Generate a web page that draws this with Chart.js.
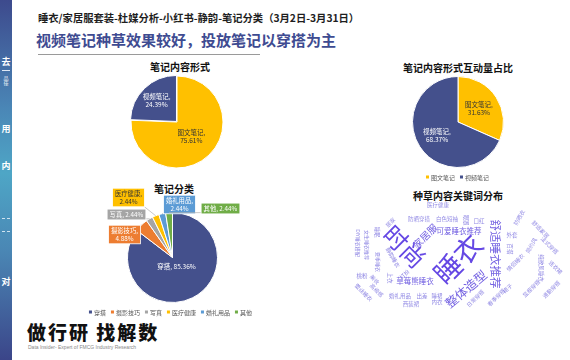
<!DOCTYPE html>
<html>
<head>
<meta charset="utf-8">
<script src="https://cdn.jsdelivr.net/npm/chart.js@4"></script>
<style>
  body { margin: 0; width: 570px; height: 360px; background: #fff; overflow: hidden; position: relative;
         font-family: "Noto Sans CJK SC", "Noto Sans", sans-serif; }
  .abs { position: absolute; }
  .side { left: 0; top: 0; width: 12px; height: 360px;
          background: linear-gradient(#3d4a8d 0%, #4a86b6 30%, #4ea6c6 48%, #4a86b4 70%, #3b4589 100%); }
  .side span { position: absolute; left: 0; width: 12px; text-align: center; color: #fff; font-weight: bold; font-size: 9px; line-height: 1; }
  .title1 { left: 38px; top: 10px; font-size: 10.3px; font-weight: bold; color: #1e1e1e; white-space: nowrap; }
  .title2 { left: 36px; top: 29px; font-size: 15px; font-weight: bold; color: #3e4b91; white-space: nowrap; }
  .rule { left: 38px; top: 54px; width: 222px; height: 1px; background: #9a9a9a; }
  .ct { font-size: 10px; font-weight: bold; color: #111; white-space: nowrap; transform: translate(-50%, -50%); }
  .legend { font-size: 6px; color: #555; white-space: nowrap; transform: translate(-50%, -50%); }
  .legend i { display: inline-block; width: 3px; height: 3px; margin: 0 2px 0 5px; vertical-align: 1px; }
  .word { white-space: nowrap; line-height: 1; }
  .logo { left: 27px; top: 318px; font-size: 19px; font-weight: 900; color: #111; letter-spacing: 2px; white-space: nowrap; }
  .sub { left: 28px; top: 344px; font-size: 5px; color: #888; white-space: nowrap; font-family: "Liberation Sans", sans-serif; }
</style>
</head>
<body>
<div class="abs side">
  <span style="top:57px">去</span>
  <div class="abs" style="left:2px;top:70px;width:8px;height:1px;background:#dfe8f5"></div>
  <span style="top:75px;font-size:5px;font-weight:normal">品<br>佳</span>
  <span style="top:124px">用</span>
  <span style="top:161px">内</span>
  <div class="abs" style="left:2px;top:218px;width:8px;height:0;border-top:1px dashed #cfe3f0"></div>
  <div class="abs" style="left:2px;top:231px;width:8px;height:0;border-top:1px dashed #cfe3f0"></div>
  <span style="top:277px">对</span>
</div>

<div class="abs title1">睡衣/家居服套装-杜媒分析-小红书-静韵-笔记分类（3月2日-3月31日）</div>
<div class="abs title2">视频笔记种草效果较好，投放笔记以穿搭为主</div>
<div class="abs rule"></div>

<div class="abs ct" style="left:180px;top:66px">笔记内容形式</div>
<div class="abs ct" style="left:458px;top:67px">笔记内容形式互动量占比</div>
<div class="abs ct" style="left:174px;top:188px">笔记分类</div>
<div class="abs ct" style="left:458px;top:195px">种草内容关键词分布</div>

<canvas id="formChart" class="abs" style="left:127px;top:71px;width:100px;height:102px"></canvas>
<canvas id="interChart" class="abs" style="left:408px;top:71px;width:100px;height:102px"></canvas>
<canvas id="typeChart" class="abs" style="left:90px;top:180px;width:170px;height:130px"></canvas>

<div id="legend2" class="abs legend" style="left:455px;top:177px"></div>
<div id="legend3" class="abs legend" style="left:168px;top:312px"></div>

<div id="cloud"></div>

<div class="abs logo">做行研 找解数</div>
<div class="abs sub">Data Insider- Expert of FMCG Industry Research</div>

<script>
// 笔记内容形式
const formLabels = ['图文笔记', '视频笔记'];
const formValues = [75.61, 24.39];
// 笔记内容形式互动量占比
const interLabels = ['图文笔记', '视频笔记'];
const interValues = [31.63, 68.37];
// 笔记分类
const typeLabels = ['穿搭', '摄影技巧', '写真', '医疗健康', '婚礼用品', '其他'];
const typeValues = [85.36, 4.88, 2.44, 2.44, 2.44, 2.44];
// 关键词 (文字, 字号)
const cloudWords = [
  ['时尚', 24], ['睡衣', 28], ['舒适睡衣推荐', 11.5], ['整体造型', 12.5], ['家居服', 10],
  ['可爱睡衣推荐', 7.5], ['草莓熊睡衣', 7.5],
  ['医疗健康', 5.5], ['防晒穿搭', 5.5], ['白色短袖', 5.5], ['眼罩', 5.5], ['口红', 5.5],
  ['居家', 5.5], ['睡眠', 5.5], ['DIY睡衣搭配', 5], ['女生睡衣推荐', 5], ['静韵睡衣', 5.5],
  ['夏季睡衣', 5], ['上衣', 5.5], ['打扮', 5.5], ['桃粉', 5.5], ['美妆', 5.5], ['高级感', 5.5],
  ['蕾丝睡衣', 5.5], ['婚礼用品', 5.5], ['出差', 5.5], ['睡裙', 5.5], ['西装裙', 5.5], ['内衣', 5.5],
  ['日常穿搭', 5.5], ['春季穿搭', 5.5], ['裙子', 5.5], ['外套', 5.5], ['百搭', 5.5], ['防晒衣', 5.5],
  ['情侣睡衣', 5.5], ['舒适家居', 5.5], ['简约风', 5.5], ['法式穿搭', 5.5], ['纯欲风睡衣', 5.5],
  ['连衣裙', 5.5], ['显瘦穿搭', 5.5], ['通勤穿搭', 5.5]
];

const NAVY = '#44508c', GOLD = '#ffc000';
const typeColors = [NAVY, '#ed7d31', '#a5a5a5', GOLD, '#5b9bd5', '#70ad47'];

// word cloud layout: centre x, y, rotation
const cloudPos = [
  [405, 246, 45], [457, 258, -45], [495, 254, 90], [466, 289, -40], [425, 236, -45],
  [459, 231, 0], [415, 281, 0],
  [438, 206, 0], [419, 220, 0], [447, 220, 0], [465, 220, 90], [479, 222, 0],
  [391, 223, -45], [376, 232, 90], [358, 243, 90], [367, 245, 90], [392, 258, 60],
  [378, 262, 90], [389, 278, 90], [405, 275, -45], [362, 277, 0], [374, 280, 45], [376, 291, 45],
  [363, 293, 45], [400, 297, 0], [422, 297, 0], [437, 297, 0], [411, 305, 0], [437, 303, 0],
  [476, 299, -45], [497, 298, -45], [508, 289, -45], [512, 236, 0], [509, 249, 90], [520, 218, -60],
  [516, 263, -45], [540, 230, 45], [532, 246, -60], [549, 246, 45], [540, 268, 90],
  [555, 268, 45], [532, 289, -45], [552, 290, -45]
];
const cloud = document.getElementById('cloud');
cloudWords.forEach(([w, s], i) => {
  const [x, y, r] = cloudPos[i];
  const el = document.createElement('div');
  el.className = 'abs word';
  el.textContent = w;
  el.style.left = x + 'px';
  el.style.top = y + 'px';
  el.style.fontSize = s + 'px';
  el.style.color = s >= 20 ? '#6548e4' : s >= 7 ? '#7462e2' : '#9189e4';
  el.style.transform = 'translate(-50%,-50%) rotate(' + r + 'deg)';
  cloud.appendChild(el);
});

function legendHtml(labels, colors) {
  return labels.map((l, i) => '<i style="background:' + colors[i] + '"></i>' + l).join('');
}
document.getElementById('legend2').innerHTML = legendHtml(interLabels, [GOLD, NAVY]);
document.getElementById('legend3').innerHTML = legendHtml(typeLabels, typeColors);

// slice labels, plain or in a callout box
const sliceLabels = {
  id: 'sliceLabels',
  afterDatasetsDraw(chart, args, opts) {
    const ctx = chart.ctx;
    const arcs = chart.getDatasetMeta(0).data;
    const vals = chart.data.datasets[0].data;
    arcs.forEach((arc, i) => {
      const st = opts.items[i];
      const mid = (arc.startAngle + arc.endAngle) / 2;
      const text = chart.data.labels[i] + ', ' + vals[i].toFixed(2) + '%';
      const lines = st.one ? [text] : [chart.data.labels[i] + ',', vals[i].toFixed(2) + '%'];
      let x, y;
      if (st.dx !== undefined) { x = arc.x + st.dx; y = arc.y + st.dy; }
      else { x = arc.x + Math.cos(mid) * arc.outerRadius * st.r; y = arc.y + Math.sin(mid) * arc.outerRadius * st.r; }
      ctx.save();
      ctx.font = (st.size || 6.5) + 'px "Noto Sans CJK SC"';
      ctx.textAlign = 'center';
      ctx.textBaseline = 'middle';
      const lh = (st.size || 6.5) + 1.5;
      if (st.box) {
        const w = Math.max(...lines.map(l => ctx.measureText(l).width)) + 5;
        const h = lines.length * lh + 3;
        // leader line from slice edge to box
        const ex = arc.x + Math.cos(mid) * arc.outerRadius, ey = arc.y + Math.sin(mid) * arc.outerRadius;
        const lx = Math.min(Math.max(ex, x - w / 2), x + w / 2);
        const ly = Math.min(Math.max(ey, y - h / 2), y + h / 2);
        ctx.strokeStyle = '#b0b0b0';
        ctx.lineWidth = 0.7;
        ctx.beginPath(); ctx.moveTo(ex, ey); ctx.lineTo(lx, ly); ctx.stroke();
        ctx.fillStyle = arc.options.backgroundColor;
        ctx.fillRect(x - w / 2, y - h / 2, w, h);
        ctx.strokeStyle = '#ffffff';
        ctx.lineWidth = 0.8;
        ctx.strokeRect(x - w / 2, y - h / 2, w, h);
      }
      ctx.fillStyle = st.color;
      lines.forEach((l, k) => ctx.fillText(l, x, y + (k - (lines.length - 1) / 2) * lh));
      ctx.restore();
    });
  }
};

function pieOptions(pad, items) {
  return {
    responsive: false,
    animation: false,
    layout: { padding: pad },
    plugins: { legend: { display: false }, tooltip: { enabled: false }, sliceLabels: { items } }
  };
}

function makeCanvas(id, w, h) {
  const c = document.getElementById(id);
  c.width = w; c.height = h;
  return c.getContext('2d');
}

new Chart(makeCanvas('formChart', 100, 102), {
  type: 'pie',
  data: {
    labels: formLabels,
    datasets: [{ data: formValues, backgroundColor: [GOLD, NAVY], borderColor: '#fff', borderWidth: 1, offset: [0, 3] }]
  },
  options: pieOptions(2, [
    { r: 0.45, color: '#333', size: 6.5 },
    { r: 0.64, color: '#fff', size: 6.5 }
  ]),
  plugins: [sliceLabels]
});

new Chart(makeCanvas('interChart', 100, 102), {
  type: 'pie',
  data: {
    labels: interLabels,
    datasets: [{ data: interValues, backgroundColor: [GOLD, NAVY], borderColor: '#fff', borderWidth: 1 }]
  },
  options: pieOptions(4, [
    { r: 0.55, color: '#333', size: 6.5 },
    { r: 0.55, color: '#fff', size: 6.5 }
  ]),
  plugins: [sliceLabels]
});

new Chart(makeCanvas('typeChart', 170, 130), {
  type: 'pie',
  data: {
    labels: typeLabels,
    datasets: [{ data: typeValues, backgroundColor: typeColors, borderColor: '#fff', borderWidth: 1 }]
  },
  options: pieOptions({ left: 37, right: 42, top: 32, bottom: 7 }, [
    { dx: 4, dy: 9, one: true, color: '#fff', size: 6.5 },
    { dx: -48, dy: -23, box: true, color: '#fff', size: 6.3 },
    { dx: -46, dy: -43, box: true, one: true, color: '#fff', size: 6.3 },
    { dx: -44, dy: -60, box: true, color: '#333', size: 6.3 },
    { dx: 7, dy: -53, box: true, color: '#fff', size: 6.3 },
    { dx: 48, dy: -49, box: true, one: true, color: '#fff', size: 6.3 }
  ]),
  plugins: [sliceLabels]
});
</script>
</body>
</html>
